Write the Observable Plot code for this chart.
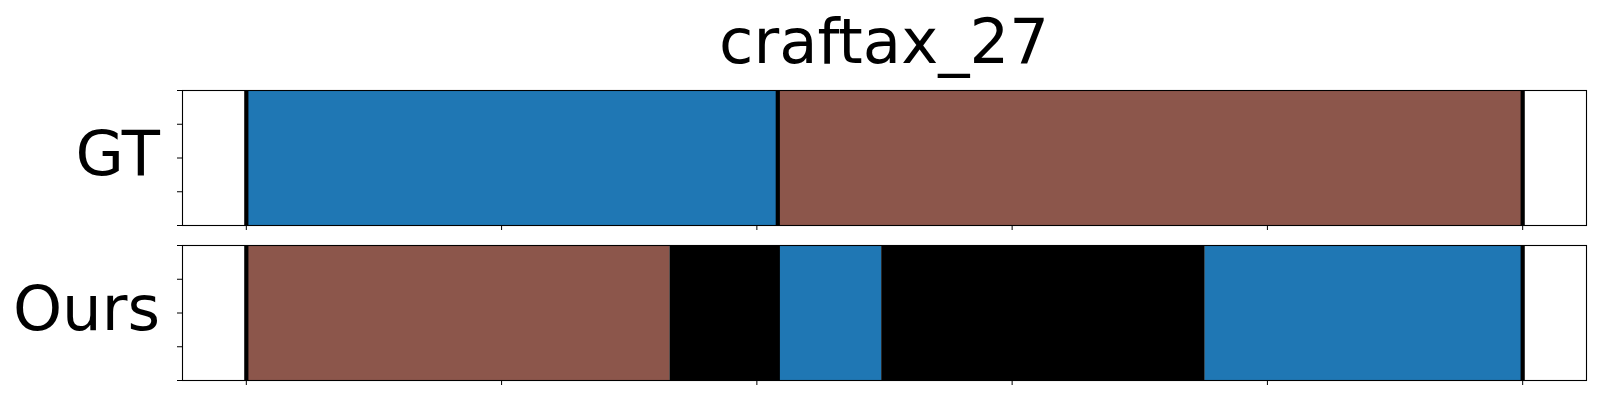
<!DOCTYPE html>
<html>
<head>
<meta charset="utf-8">
<script src="https://cdn.jsdelivr.net/npm/d3@7"></script>
<script src="https://cdn.jsdelivr.net/npm/@observablehq/plot@0.6"></script>
<style>
  html, body { margin: 0; padding: 0; background: #fff; }
  body { width: 1600px; height: 400px; overflow: hidden; font-family: "DejaVu Sans", sans-serif; color: #000; }
  #title { box-sizing: border-box; height: 89px; margin-left: 182px; width: 1404px; text-align: center;
           font-size: 62.5px; line-height: 62.5px; padding-top: 11px; font-family: "DejaVu Sans"; }
  svg { display: block; }
</style>
</head>
<body>
<div id="title">craftax_27</div>
<div id="chart"></div>
<script>
// ---- data ----
const titleText = "craftax_27";
const rowNames = ["GT", "Ours"];
const xTicks = [0, 0.2, 0.4, 0.6, 0.8, 1.0];
const yTicks = [0, 0.25, 0.5, 0.75, 1.0];
const classNames = ["class_a", "class_b", "none"];
const classColors = ["#1f77b4", "#8c564b", "#000000"];

const gtStart = [0, 0.4164];
const gtEnd   = [0.4164, 1.0];
const gtClass = ["class_a", "class_b"];

const oursStart = [0, 0.3319, 0.4164, 0.4978, 0.7513];
const oursEnd   = [0.3319, 0.4164, 0.4978, 0.7513, 1.0];
const oursClass = ["class_b", "none", "class_a", "none", "class_a"];

const boundaries = [0, 0.4164, 1.0];

// ---- drawing ----
function panel(name, starts, ends, classes, marginBottom, height) {
  const rows = starts.map((s, i) => ({x1: s, x2: ends[i], cls: classes[i]}));
  return Plot.plot({
    width: 1600, height,
    marginTop: 1, marginBottom, marginLeft: 182, marginRight: 14,
    style: {fontFamily: "DejaVu Sans", background: "white", color: "black"},
    x: {domain: [-0.05, 1.05]},
    y: {domain: [0, 1]},
    color: {domain: classNames, range: classColors},
    marks: [
      Plot.rect(rows, {x1: "x1", x2: "x2", y1: 0, y2: 1, fill: "cls"}),
      Plot.ruleX(boundaries, {stroke: "black", strokeWidth: 4.2}),
      Plot.frame({stroke: "black", strokeWidth: 1.1}),
      Plot.axisX({ticks: xTicks, tickSize: 5, tickFormat: () => "", label: null}),
      Plot.axisY({ticks: yTicks, tickSize: 5, tickFormat: () => "", label: null}),
      Plot.text([name], {frameAnchor: "left", text: d => d, textAnchor: "end", lineAnchor: "middle",
                         dx: -22.5, dy: -3, fontSize: 62.5, fill: "black"})
    ]
  });
}

document.getElementById("title").textContent = titleText;
const chart = document.getElementById("chart");
chart.appendChild(panel(rowNames[0], gtStart, gtEnd, gtClass, 19, 155));
chart.appendChild(panel(rowNames[1], oursStart, oursEnd, oursClass, 20, 156));
</script>
</body>
</html>
